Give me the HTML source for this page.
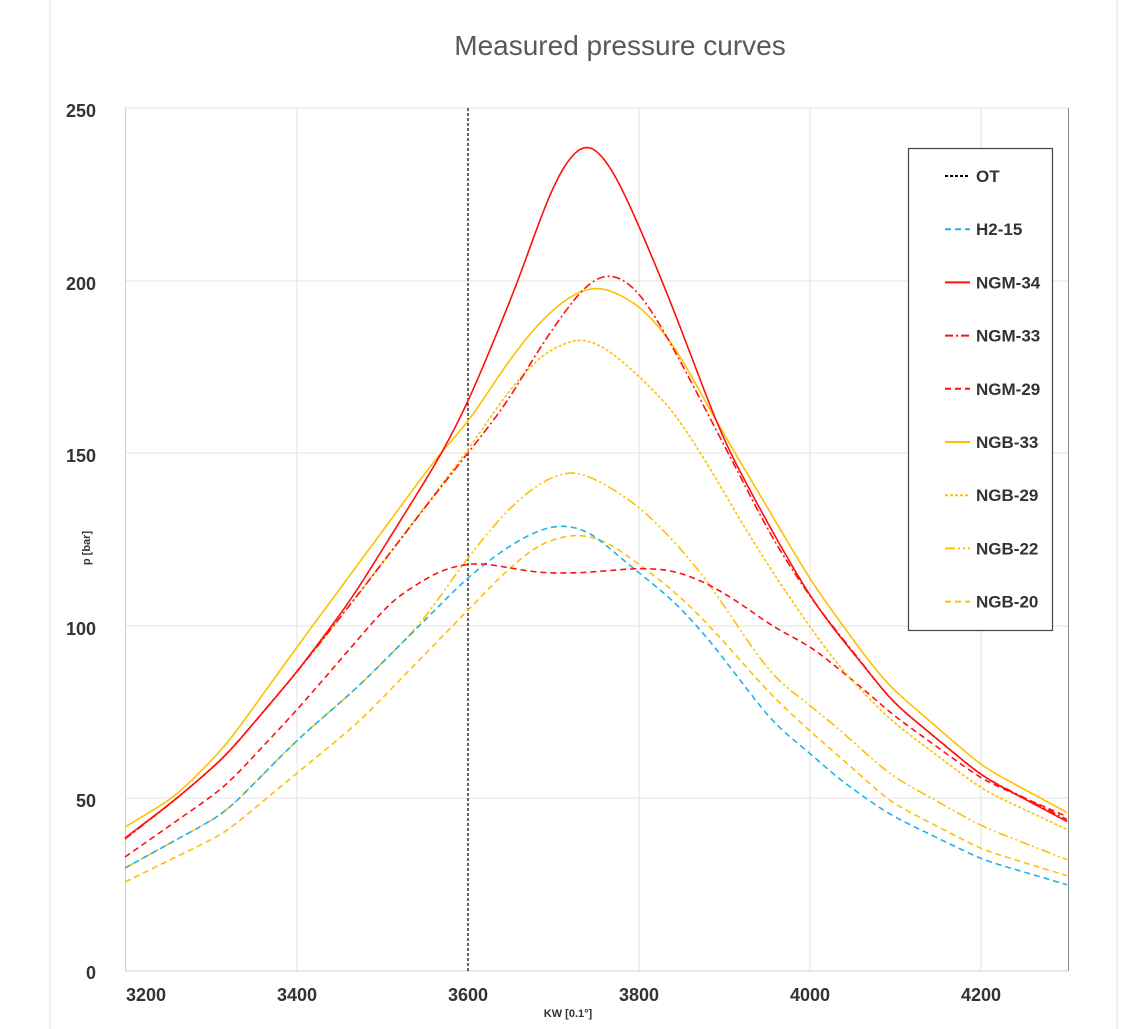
<!DOCTYPE html>
<html><head><meta charset="utf-8"><style>
body{margin:0;background:#fff}
svg{display:block;font-family:"Liberation Sans",sans-serif}
</style></head><body>
<svg id="s" width="1140" height="1029" xmlns="http://www.w3.org/2000/svg">
<rect x="0" y="0" width="1140" height="1029" fill="#fff"/>
<line x1="50" y1="0" x2="50" y2="1029" stroke="#e0e0e0"/>
<line x1="1117" y1="0" x2="1117" y2="1029" stroke="#e0e0e0"/>
<text x="620" y="55" text-anchor="middle" font-size="28" fill="#595959">Measured pressure curves</text>
<g stroke="#e3e3e3" stroke-width="1">
<line x1="125" y1="108" x2="1068" y2="108"/>
<line x1="125" y1="281" x2="1068" y2="281"/>
<line x1="125" y1="453" x2="1068" y2="453"/>
<line x1="125" y1="626" x2="1068" y2="626"/>
<line x1="125" y1="798" x2="1068" y2="798"/>
<line x1="297" y1="108" x2="297" y2="971"/>
<line x1="639" y1="108" x2="639" y2="971"/>
<line x1="810" y1="108" x2="810" y2="971"/>
<line x1="981" y1="108" x2="981" y2="971"/>
</g>
<line x1="125" y1="971" x2="1068" y2="971" stroke="#d0d0d0"/>
<line x1="125.5" y1="108" x2="125.5" y2="971" stroke="#d0d0d0"/>
<line x1="1068.5" y1="108" x2="1068.5" y2="971" stroke="#888"/>
<g font-size="18" font-weight="bold" fill="#333" text-anchor="end">
<text x="96" y="117">250</text><text x="96" y="290">200</text><text x="96" y="462">150</text>
<text x="96" y="635">100</text><text x="96" y="807">50</text><text x="96" y="979">0</text>
</g>
<g font-size="18" font-weight="bold" fill="#333" text-anchor="middle">
<text x="146" y="1001">3200</text><text x="297" y="1001">3400</text><text x="468" y="1001">3600</text>
<text x="639" y="1001">3800</text><text x="810" y="1001">4000</text><text x="981" y="1001">4200</text>
</g>
<text x="568" y="1017" font-size="11" font-weight="bold" fill="#333" text-anchor="middle">KW [0.1°]</text>
<text transform="translate(90,548) rotate(-90)" font-size="11" font-weight="bold" fill="#333" text-anchor="middle">p [bar]</text>
<line x1="468" y1="108" x2="468" y2="971" stroke="#000" stroke-dasharray="3,2" stroke-width="1.2"/>
<g id="curves" fill="none" stroke-width="1.6"></g>
<rect x="908.5" y="148.5" width="144" height="482" fill="#fff" stroke="#444" stroke-width="1.2"/>
<g id="leg" font-size="17" font-weight="bold" fill="#333"></g>
</svg>
<script>
var S=[
{n:"NGB-20",c:"#ffc000",d:"6,4",p:[[125,882],[225,833],[297,773],[358,723],[468,610],[507,570],[540,543],[577,533],[607,541],[640,565],[673,590],[707,623],[740,660],[773,697],[812,733],[840,757],[890,802],[983,850],[1068,876]]},
{n:"NGB-22",c:"#ffc000",d:"10,3,2,3,2,3",p:[[125,868],[225,813],[297,740],[358,687],[420,625],[468,557],[507,510],[540,482],[573,469],[607,485],[640,507],[673,540],[707,580],[740,630],[773,677],[812,707],[840,730],[890,775],[983,827],[1068,860]]},
{n:"H2-15",c:"#1fb4e6",d:"6,4",p:[[125,868],[225,813],[297,740],[358,687],[420,625],[468,577],[507,547],[540,529],[563,524],[590,531],[623,560],[673,600],[707,637],[740,680],[773,723],[812,755],[840,780],[890,815],[983,860],[1068,885]]},
{n:"NGM-29",c:"#ff1010",d:"6,4",p:[[125,857],[225,787],[297,710],[392,600],[440,570],[475,562],[540,573],[580,573],[640,568],[673,570],[707,583],[740,603],[773,627],[812,647],[840,670],[873,697],[890,713],[983,780],[1068,817]]},
{n:"NGB-29",c:"#ffc000",d:"3,2",p:[[125,839],[175,800],[225,757],[297,672],[350,605],[440,487],[468,450],[507,393],[540,355],[580,336],[607,348],[640,377],[673,410],[707,463],[740,520],[773,573],[812,630],[840,668],[890,720],[983,790],[1068,830]]},
{n:"NGB-33",c:"#ffc000",d:"",p:[[125,827],[175,797],[225,747],[297,647],[440,453],[468,423],[507,363],[540,321],[573,293],[600,285],[640,305],[673,343],[723,433],[773,517],[812,583],[873,667],[890,687],[983,767],[1068,813]]},
{n:"NGM-33",c:"#ff1010",d:"8,3,2,3",p:[[125,839],[175,800],[225,757],[297,672],[350,605],[440,488],[468,453],[507,403],[540,347],[573,300],[590,280],[612,271],[640,291],[673,347],[723,443],[773,540],[812,600],[873,677],[890,700],[983,777],[1068,820]]},
{n:"NGM-34",c:"#ff1010",d:"",p:[[125,838],[175,800],[225,757],[297,672],[351,600],[440,457],[468,403],[490,350],[520,277],[540,218],[560,168],[587,136],[613,168],[640,228],[670,300],[723,440],[773,533],[812,600],[840,637],[873,677],[890,700],[983,777],[1068,822]]}
];
function interp(p,x){if(x<=p[0][0]){var s=(p[1][1]-p[0][1])/(p[1][0]-p[0][0]);return p[0][1]+s*(x-p[0][0]);}
var n=p.length;if(x>=p[n-1][0]){var s=(p[n-1][1]-p[n-2][1])/(p[n-1][0]-p[n-2][0]);return p[n-1][1]+s*(x-p[n-1][0]);}
for(var i=0;i<n-1;i++){if(x<=p[i+1][0]){var t=(x-p[i][0])/(p[i+1][0]-p[i][0]);return p[i][1]+t*(p[i+1][1]-p[i][1]);}}}
function path(p){var sig=12,R=36,w=[],ws=0;for(var k=-R;k<=R;k++){var v=Math.exp(-k*k/(2*sig*sig));w.push(v);ws+=v;}
var pts=[];for(var x=125;x<=1068;x+=2){var y=0;for(var k=-R;k<=R;k++)y+=w[k+R]*interp(p,x+k);pts.push(x+","+(y/ws).toFixed(1));}
return "M"+pts.join(" L");}
var g=document.getElementById("curves"),ns="http://www.w3.org/2000/svg";
S.forEach(function(o){var e=document.createElementNS(ns,"path");e.setAttribute("d",path(o.p));e.setAttribute("stroke",o.c);if(o.d)e.setAttribute("stroke-dasharray",o.d);g.appendChild(e);});
var L=[["OT","#000","3,2"],["H2-15","#1fb4e6","6,4"],["NGM-34","#ff1010",""],["NGM-33","#ff1010","8,3,2,3"],["NGM-29","#ff1010","6,4"],["NGB-33","#ffc000",""],["NGB-29","#ffc000","3,2"],["NGB-22","#ffc000","10,3,2,3,2,3"],["NGB-20","#ffc000","6,4"]];
var lg=document.getElementById("leg");
L.forEach(function(o,i){var y=176+i*53.2;var l=document.createElementNS(ns,"line");l.setAttribute("x1",945);l.setAttribute("x2",970);l.setAttribute("y1",y);l.setAttribute("y2",y);l.setAttribute("stroke",o[1]);l.setAttribute("stroke-width",2);if(o[2])l.setAttribute("stroke-dasharray",o[2]);lg.appendChild(l);var t=document.createElementNS(ns,"text");t.setAttribute("x",976);t.setAttribute("y",y+6);t.textContent=o[0];lg.appendChild(t);});
</script>
</body></html>
